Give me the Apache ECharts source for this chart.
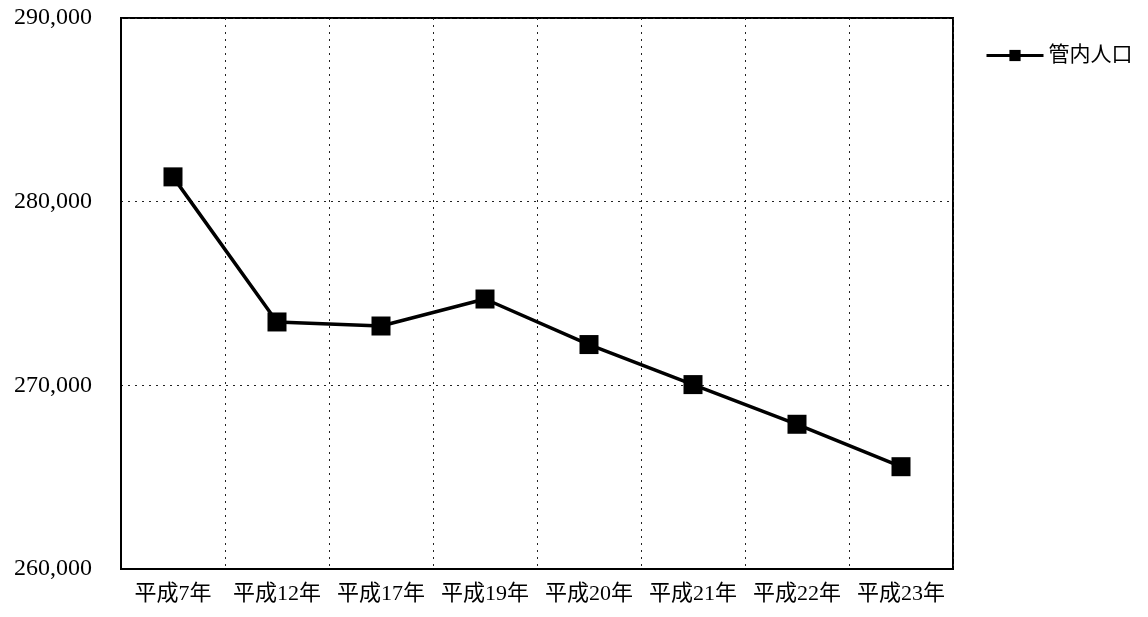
<!DOCTYPE html>
<html>
<head>
<meta charset="utf-8">
<script src="https://cdn.jsdelivr.net/npm/echarts@6/dist/echarts.min.js"></script>
<style>
html,body{margin:0;padding:0;background:#fff;}
#c{width:1148px;height:617px;}
</style>
</head>
<body>
<div id="c"></div>
<script>
const categories = ['平成7年','平成12年','平成17年','平成19年','平成20年','平成21年','平成22年','平成23年'];
const population = [281350, 273450, 273230, 274700, 272220, 270040, 267880, 265570];
const seriesName = '管内人口';
const yMin = 260000, yMax = 290000, yStep = 10000;

const FONT = "'Liberation Serif', 'DejaVu Serif', 'Noto Sans CJK JP', serif";
const chart = echarts.init(document.getElementById('c'), null, {renderer:'canvas'});
chart.setOption({
  backgroundColor:'#ffffff',
  animation:false,
  textStyle:{fontFamily:FONT, color:'#000'},
  grid:{left:121, top:18, right:195, bottom:48, show:true, borderColor:'#000', borderWidth:2, backgroundColor:'transparent'},
  legend:{
    left:985, top:45, padding:0, itemWidth:57, itemHeight:14, itemGap:4,
    lineStyle:{width:3, color:'#000'},
    textStyle:{fontFamily:FONT, fontSize:21, color:'#000'},
    data:[{name:seriesName}]
  },
  xAxis:{
    type:'category', data:categories, boundaryGap:true,
    axisLine:{show:true, lineStyle:{color:'#000', width:2}},
    axisTick:{show:false},
    axisLabel:{fontFamily:FONT, fontSize:22, color:'#000', margin:14, interval:0},
    splitLine:{show:true, interval:0, lineStyle:{color:'#222', type:[2,5], width:1}}
  },
  yAxis:{
    type:'value', min:yMin, max:yMax, interval:yStep,
    axisLine:{show:true, lineStyle:{color:'#000', width:2}},
    axisTick:{show:false},
    axisLabel:{fontFamily:FONT, fontSize:24, color:'#000', margin:29,
      formatter:v=>v.toLocaleString('en-US')},
    splitLine:{show:true, lineStyle:{color:'#222', type:[2,5], width:1}}
  },
  series:[{
    name:seriesName, type:'line', data:population,
    symbol:'rect', symbolSize:19,
    lineStyle:{color:'#000', width:3.5},
    itemStyle:{color:'#000'}
  }]
});
</script>
</body>
</html>
